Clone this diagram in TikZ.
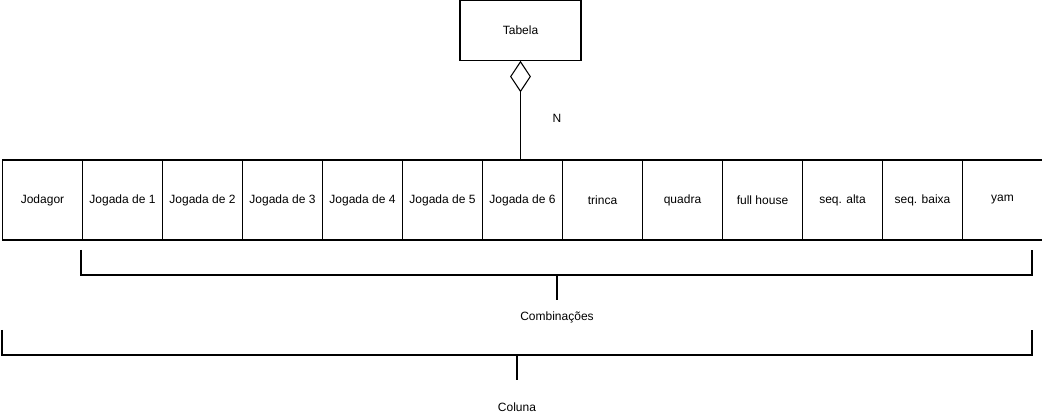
\documentclass[tikz,border=0pt]{standalone}
\usepackage{fontspec}
\setmainfont{Liberation Sans}
\usetikzlibrary{positioning, shapes.geometric}
\tikzset{
  every picture/.style={font=\fontsize{9}{11}\selectfont, line width=0.8pt},
  cell/.style={draw, minimum width=60pt, minimum height=60pt, inner sep=0pt, anchor=center},
  tbl/.style={draw, minimum width=90.75pt, minimum height=45pt, inner sep=0pt},
  agg/.style={diamond, draw, minimum width=15pt, minimum height=22.5pt, inner sep=0pt, fill=white},
  brace/.style={line width=1.4pt},
  lbl/.style={inner sep=1pt},
}
\begin{document}
\begin{tikzpicture}[x=0.75pt, y=-0.75pt]
\useasboundingbox (0,0) rectangle (1042,416);
% table and aggregation
\node[tbl] (tab) at (520.5,30.5) {Tabela};
\node[agg, anchor=north] (dia) at (tab.south) {};
% row of columns
\foreach \t [count=\i] in {Jodagor, Jogada de 1, Jogada de 2, Jogada de 3, Jogada de 4, Jogada de 5, Jogada de 6, trinca, quadra, full house, seq. alta, seq. baixa, yam}
  \node[cell] (c\i) at ({2.5+80*(\i-1)+40},200) {\t};
\draw (dia.south) -- (dia.south |- c7.north);
\node[lbl] (n) at (557,118) {N};
% Combinacoes bracket
\node[lbl] (comb) at (557,317) {Combinações};
\coordinate (combtop) at (557,300);
\draw[brace] (81,250) |- (1032,275) -- (1032,250);
\draw[brace] (557,275) -- (combtop);
% Coluna bracket
\node[lbl] (col) at (517,407) {Coluna};
\coordinate (coltop) at (517,380);
\draw[brace] (2,330) |- (1032,355) -- (1032,330);
\draw[brace] (517,355) -- (coltop);
\end{tikzpicture}
\end{document}
